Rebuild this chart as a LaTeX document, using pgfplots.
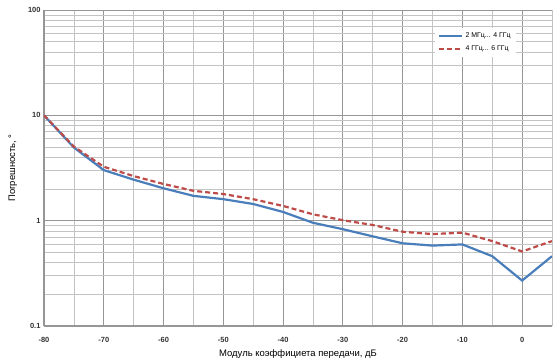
\documentclass[border=0pt]{standalone}
\usepackage{pgfplots}
\pgfplotsset{compat=1.18}
\usepackage{fontspec}
\setmainfont{Liberation Sans}
\definecolor{bl}{RGB}{74,126,187}
\definecolor{rd}{RGB}{190,75,72}
\definecolor{gmaj}{RGB}{150,150,150}
\definecolor{gmin}{RGB}{195,195,195}
\begin{document}
\begin{tikzpicture}[x=1bp,y=1bp]
\begin{axis}[
  at={(0,0)}, anchor=south west,
  scale only axis, width=508bp, height=316bp,
  ymode=log, ymin=0.1, ymax=100,
  xmin=-80, xmax=5,
  xtick={-80,-70,...,0}, minor xtick={-75,-65,...,5},
  ytick={0.1,1,10,100}, yticklabels={0.1,1,10,100},
  grid=both,
  major grid style={gmaj, line width=0.8pt},
  minor grid style={gmin, line width=0.6pt},
  axis x line*=bottom, axis y line*=left,
  axis line style={gmaj, line width=1.2pt, -},
  tick style={draw=none},
  tick label style={font=\fontsize{7.5}{8}\selectfont\bfseries, text=black!80},
  /pgf/number format/assume math mode=true,
  xticklabel style={yshift=-8bp},
  log ticks with fixed point,
  xlabel={Модуль коэффициета передачи, дБ},
  ylabel={Погрешность, °},
  label style={font=\fontsize{9.5}{10}\selectfont},
  xlabel style={yshift=0bp},
  ylabel style={yshift=4bp},
  legend style={at={(0.77,0.945)}, anchor=north west, draw=none, fill=white,
    font=\fontsize{7}{7}\selectfont, row sep=3bp, inner sep=3bp},
  legend cell align=left,
  legend image code/.code={\draw[#1] (0bp,0bp) -- (23bp,0bp);},
]
\addplot[bl, line width=2.2pt] coordinates {
(-80,10) (-75,4.95) (-70,3.02) (-65,2.45) (-60,2.03) (-55,1.72) (-50,1.60) (-45,1.44)
(-40,1.21) (-35,0.955) (-30,0.83) (-25,0.71) (-20,0.61) (-15,0.58) (-10,0.595)
(-5,0.46) (0,0.27) (5,0.46)};
\addlegendentry{2 МГц... 4 ГГц}
\addplot[rd, line width=2.2pt, dash pattern=on 5bp off 3bp] coordinates {
(-80,10) (-75,5.05) (-70,3.25) (-65,2.65) (-60,2.23) (-55,1.92) (-50,1.79) (-45,1.60)
(-40,1.38) (-35,1.15) (-30,1.01) (-25,0.91) (-20,0.785) (-15,0.746) (-10,0.77)
(-5,0.64) (0,0.51) (5,0.64)};
\addlegendentry{4 ГГц... 6 ГГц}
\end{axis}
\pgfresetboundingbox
\path (-44bp,-38bp) rectangle (514bp,326bp);
\end{tikzpicture}
\end{document}
